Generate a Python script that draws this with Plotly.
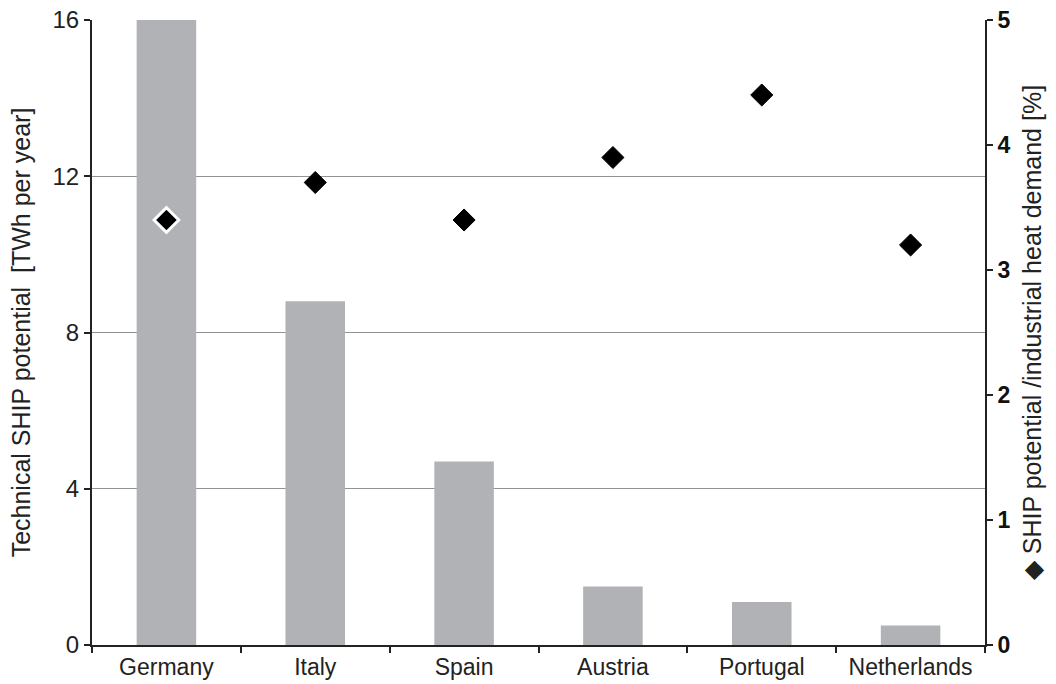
import plotly.graph_objects as go

countries = ["Germany", "Italy", "Spain", "Austria", "Portugal", "Netherlands"]
potential_twh = [16.0, 8.8, 4.7, 1.5, 1.1, 0.5]
share_pct = [3.4, 3.7, 3.4, 3.9, 4.4, 3.2]

left_ticks = [0, 4, 8, 12, 16]
right_ticks = [0, 1, 2, 3, 4, 5]

font_family = "Liberation Sans, Arial, sans-serif"

fig = go.Figure()
fig.add_trace(go.Bar(
    x=countries, y=potential_twh, marker_color="#b1b2b6", marker_line_width=0,
    width=0.4, yaxis="y", showlegend=False,
))
fig.add_trace(go.Scatter(
    x=countries, y=share_pct, mode="markers", yaxis="y2", showlegend=False,
    marker=dict(symbol="diamond", size=[19, 17, 17, 17, 17, 17], color="#000000", opacity=1,
                line=dict(color=["white", "#000000", "#000000", "#000000", "#000000", "#000000"],
                          width=[3, 1, 1, 1, 1, 1])),
    cliponaxis=False,
))

fig.update_layout(
    width=1056, height=684,
    margin=dict(l=92, r=71, t=20, b=39),
    plot_bgcolor="white", paper_bgcolor="white",
    font=dict(family=font_family, size=24, color="#222"),
    bargap=0.6,
    xaxis=dict(
        type="category", showline=True, linecolor="#222", linewidth=2,
        ticks="outside", tickson="boundaries", ticklen=6, tickwidth=2, tickcolor="#222",
        tickfont=dict(size=23), showgrid=False, range=[-0.5, 5.5], automargin=False,
    ),
    yaxis=dict(
        range=[0, 16], tickvals=left_ticks, showline=True, linecolor="#222", linewidth=2,
        ticks="outside", ticklen=6, tickwidth=2, tickcolor="#222",
        showgrid=True, gridcolor="#939393", gridwidth=1.3, zeroline=False,
        tickfont=dict(size=24), automargin=False,
        title=dict(text="Technical SHIP potential  [TWh per year]", font=dict(size=25), standoff=15),
    ),
    yaxis2=dict(
        range=[0, 5], tickvals=right_ticks, overlaying="y", side="right",
        showline=True, linecolor="#222", linewidth=2,
        ticks="outside", ticklen=6, tickwidth=2, tickcolor="#222",
        showgrid=False, zeroline=False, automargin=False,
        tickfont=dict(size=23, family=font_family, weight="bold", color="#111"),
        title=dict(text="◆ SHIP potential /industrial heat demand [%]", font=dict(size=25), standoff=14),
    ),
)

fig.write_html("out.html")
